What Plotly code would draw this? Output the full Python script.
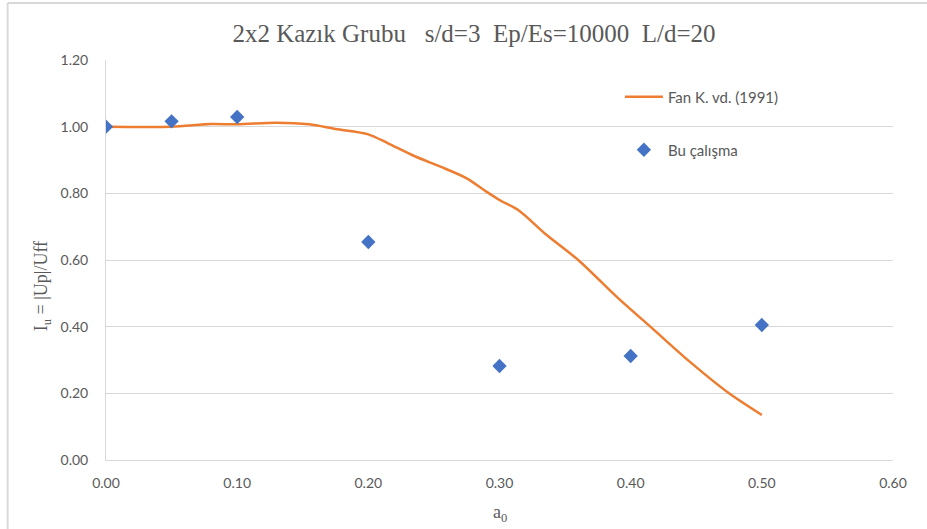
import plotly.graph_objects as go

# Fan K. vd. (1991) curve
fan_x = [0.0, 0.05, 0.08, 0.10, 0.13, 0.155, 0.175, 0.20, 0.215, 0.235, 0.255, 0.275,
         0.29, 0.30, 0.315, 0.335, 0.36, 0.39, 0.415, 0.445, 0.475, 0.50]
fan_y = [1.00, 1.00, 1.008, 1.007, 1.012, 1.007, 0.993, 0.977, 0.950, 0.912, 0.880, 0.845,
         0.805, 0.780, 0.748, 0.678, 0.600, 0.487, 0.400, 0.295, 0.200, 0.135]

# Bu çalışma points
bu_x = [0.0, 0.05, 0.10, 0.20, 0.30, 0.40, 0.50]
bu_y = [1.00, 1.016, 1.029, 0.654, 0.282, 0.312, 0.405]

x_ticks = [0.0, 0.1, 0.2, 0.3, 0.4, 0.5, 0.6]
y_ticks = [0.0, 0.2, 0.4, 0.6, 0.8, 1.0, 1.2]

GRID = "#d9d9d9"
TXT = "#595959"
TICKFONT = dict(family="Lato", size=14, color=TXT)
SERIF = "Liberation Serif"
NB = "\u00a0"

fig = go.Figure()
fig.add_trace(go.Scatter(
    x=fan_x, y=fan_y, mode="lines", name="Fan K. vd. (1991)",
    line=dict(color="#ED7D31", width=2.5, shape="spline", smoothing=0.8),
    legend="legend", showlegend=True,
))
fig.add_trace(go.Scatter(
    x=bu_x, y=bu_y, mode="markers", name="Bu çalışma",
    marker=dict(symbol="diamond", size=11, color="#4472C4"),
    legend="legend2", showlegend=True,
))

title_text = ("2x2 Kazık Grubu" + NB * 2 + " s/d=3" + NB + " Ep/Es=10000" + NB + " L/d=20")

fig.update_layout(
    width=927, height=529,
    showlegend=True,
    margin=dict(l=106, r=34, t=60, b=69),
    paper_bgcolor="white", plot_bgcolor="white",
    title=dict(text=title_text,
               x=(474 - 106) / 787, xref="paper", xanchor="center",
               y=1 - 33 / 529, yref="container", yanchor="middle",
               font=dict(family=SERIF, size=25, color=TXT)),
    xaxis=dict(range=[0, 0.6], tickvals=x_ticks, ticktext=[f"{v:.2f}" for v in x_ticks],
               showgrid=False, showline=True, linecolor=GRID, linewidth=1,
               zeroline=False, ticks="", ticklabelstandoff=10, tickfont=TICKFONT),
    yaxis=dict(range=[0, 1.2], tickvals=y_ticks, ticktext=[f"{v:.2f}" for v in y_ticks],
               showgrid=True, gridcolor=GRID, gridwidth=1, showline=True, linecolor=GRID,
               linewidth=1, zeroline=False, ticks="", ticklabelstandoff=14, tickfont=TICKFONT),
    legend=dict(x=0.653, y=0.9075, xanchor="left", yanchor="middle",
                bgcolor="rgba(0,0,0,0)", itemwidth=38,
                font=dict(family="Lato", size=15, color=TXT)),
    legend2=dict(x=0.653, y=0.775, xanchor="left", yanchor="middle",
                 bgcolor="rgba(0,0,0,0)", itemwidth=38,
                 font=dict(family="Lato", size=15, color=TXT)),
    annotations=[
        dict(text="I<sub>u</sub> = |Up|/Uff", xref="paper", yref="paper",
             x=-0.081, y=(460 - 286) / 400, textangle=-90, showarrow=False,
             xanchor="center", yanchor="middle",
             font=dict(family=SERIF, size=18, color=TXT)),
        dict(text="a<sub>0</sub>", xref="paper", yref="paper",
             x=0.5, y=-0.1325, showarrow=False, xanchor="center", yanchor="middle",
             font=dict(family=SERIF, size=18, color=TXT)),
    ],
    shapes=[
        dict(type="line", xref="paper", yref="paper", x0=-0.125, x1=1.1, y0=1.1425, y1=1.1425,
             line=dict(color=GRID, width=2)),
        dict(type="line", xref="paper", yref="paper", x0=-0.125, x1=-0.125, y0=-0.2, y1=1.1425,
             line=dict(color=GRID, width=2)),
    ],
)

fig.write_html("out.html", config={"displayModeBar": False},
               post_script="document.body.style.margin='0';document.body.style.overflow='hidden';")
